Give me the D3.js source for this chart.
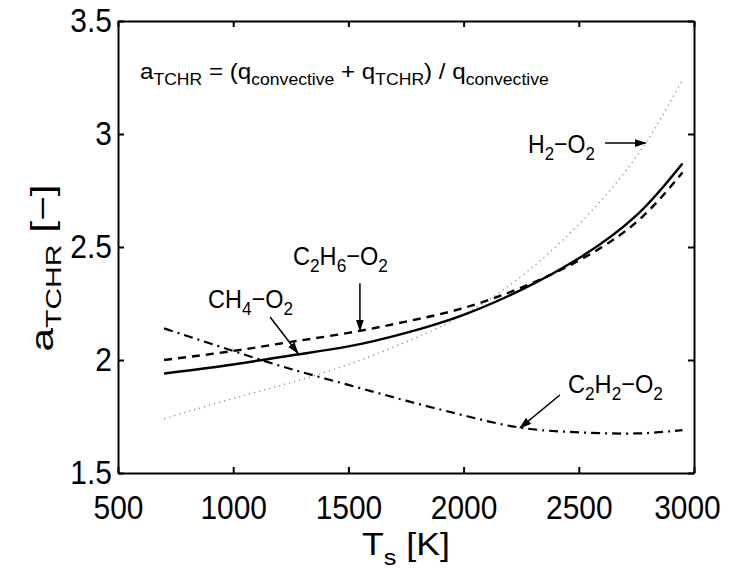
<!DOCTYPE html>
<html><head><meta charset="utf-8">
<script src="https://cdn.jsdelivr.net/npm/d3@7"></script>
<style>html,body{margin:0;padding:0;background:#fff;}</style>
</head><body>
<svg id="c" width="729" height="571"></svg>
<script>
// ---- data ----
const temps = [700, 1000, 1250, 1500, 1750, 2000, 2250, 2500, 2750, 2950];
const ch4   = [1.94, 1.98, 2.02, 2.06, 2.12, 2.20, 2.31, 2.45, 2.64, 2.87];
const c2h6  = [2.00, 2.04, 2.08, 2.12, 2.17, 2.23, 2.32, 2.44, 2.61, 2.83];
const h2    = [1.74, 1.83, 1.90, 1.98, 2.08, 2.20, 2.37, 2.60, 2.90, 3.24];
const c2h2  = [2.14, 2.04, 1.96, 1.89, 1.82, 1.755, 1.70, 1.68, 1.675, 1.69];
const xTicks = [500, 1000, 1500, 2000, 2500, 3000];
const yTicks = [1.5, 2, 2.5, 3, 3.5];

const W = 729, H = 571;
const svg = d3.select('#c');
const FONT = 'Liberation Sans, Arial, Helvetica, sans-serif';
const x = d3.scaleLinear().domain([500, 3000]).range([118, 694]);
const y = d3.scaleLinear().domain([1.5, 3.5]).range([473, 21]);

// arrow marker
svg.append('defs').append('marker')
  .attr('id', 'ah').attr('markerUnits', 'userSpaceOnUse')
  .attr('markerWidth', 12).attr('markerHeight', 10)
  .attr('refX', 11).attr('refY', 4).attr('orient', 'auto')
  .append('path').attr('d', 'M0,0 L12,4 L0,8 Z').attr('fill', '#000');

// series lines
const line = d3.line().x(d => x(d[0])).y(d => y(d[1])).curve(d3.curveNatural);
const series = [
  {vals: h2,   stroke: '#888', width: 1.3, dash: '1.2,4'},
  {vals: c2h2, stroke: '#000', width: 2.2, dash: '9,5,2,5'},
  {vals: c2h6, stroke: '#000', width: 2.4, dash: '8,6'},
  {vals: ch4,  stroke: '#000', width: 2.4, dash: null},
];
series.forEach(s => {
  svg.append('path')
    .datum(temps.map((t, i) => [t, s.vals[i]]))
    .attr('d', line).attr('fill', 'none')
    .attr('stroke', s.stroke).attr('stroke-width', s.width)
    .attr('stroke-dasharray', s.dash);
});

// axes
const gx = svg.append('g').attr('transform', `translate(0,${y(1.5)})`)
  .call(d3.axisBottom(x).tickValues(xTicks).tickSizeInner(-6).tickSizeOuter(0).tickPadding(22).tickFormat(d3.format('d')));
const gy = svg.append('g').attr('transform', `translate(${x(500)},0)`)
  .call(d3.axisLeft(y).tickValues(yTicks).tickSizeInner(-6).tickSizeOuter(0).tickPadding(7).tickFormat(d => String(d)));
const gt = svg.append('g').attr('transform', `translate(0,${y(3.5)})`)
  .call(d3.axisTop(x).tickValues(xTicks).tickSizeInner(-6).tickSizeOuter(0).tickFormat(''));
const gr = svg.append('g').attr('transform', `translate(${x(3000)},0)`)
  .call(d3.axisRight(y).tickValues(yTicks).tickSizeInner(-6).tickSizeOuter(0).tickFormat(''));
[gx, gy, gt, gr].forEach(g => {
  g.selectAll('.domain').attr('stroke', '#000').attr('stroke-width', 2);
  g.selectAll('.tick line').attr('stroke', '#000').attr('stroke-width', 2);
  g.selectAll('.tick text').attr('font-family', FONT).attr('font-size', 34)
    .attr('fill', '#000').attr('transform', 'scale(0.88,1)');
});
// keep the last x label inside the page
gx.selectAll('.tick text').filter(d => d === 3000).attr('x', -8);

// rich text helper: parts = [[text, isSub], ...]
function rich(parts, o) {
  const g = svg.append('g');
  const t = g.append('text').attr('font-family', FONT).attr('font-size', o.size).attr('fill', '#000');
  let down = false;
  parts.forEach(([s, sub]) => {
    const ts = t.append('tspan').text(s);
    if (sub && !down) { ts.attr('dy', o.dy).attr('font-size', o.sub); down = true; }
    else if (sub) { ts.attr('font-size', o.sub); }
    else if (!sub && down) { ts.attr('dy', -o.dy); down = false; }
  });
  const w = t.node().getBBox().width;
  const sx = o.width ? o.width / w : 0.85;
  const off = o.anchor === 'middle' ? -w / 2 : 0;
  t.attr('x', off);
  g.attr('transform', `translate(${o.x},${o.y}) rotate(${o.rotate || 0}) scale(${sx},1)`);
  return g;
}

// formula
rich([['a'], ['TCHR', 1], [' = (q'], ['convective', 1], [' + q'], ['TCHR', 1], [') / q'], ['convective', 1]],
  {x: 140, y: 79, size: 22, sub: 16, dy: 6, width: 409});

// axis titles
rich([['T'], ['s', 1], [' [K]']], {x: 406, y: 555, size: 31, sub: 22, dy: 10, width: 88, anchor: 'middle'});
rich([['a'], ['TCHR', 1], [' [−]']], {x: 53, y: 268, size: 31, sub: 22, dy: 8, width: 167, anchor: 'middle', rotate: -90});

// annotations
const ann = [
  {parts: [['H'], ['2', 1], ['−O'], ['2', 1]], x: 528, y: 153, width: 67, from: [2614, 2.96], to: [2790, 2.96]},
  {parts: [['C'], ['2', 1], ['H'], ['6', 1], ['−O'], ['2', 1]], x: 293, y: 265, width: 95, from: [1550, 2.34], to: [1550, 2.13]},
  {parts: [['CH'], ['4', 1], ['−O'], ['2', 1]], x: 208, y: 308, width: 85, from: [1160, 2.19], to: [1281, 2.03]},
  {parts: [['C'], ['2', 1], ['H'], ['2', 1], ['−O'], ['2', 1]], x: 568, y: 393, width: 95, from: [2418, 1.845], to: [2245, 1.70]},
];
ann.forEach(a => {
  rich(a.parts, {x: a.x, y: a.y, size: 26, sub: 19, dy: 7, width: a.width});
  svg.append('line')
    .attr('x1', x(a.from[0])).attr('y1', y(a.from[1]))
    .attr('x2', x(a.to[0])).attr('y2', y(a.to[1]))
    .attr('stroke', '#000').attr('stroke-width', 1.5).attr('marker-end', 'url(#ah)');
});
</script>
</body></html>
